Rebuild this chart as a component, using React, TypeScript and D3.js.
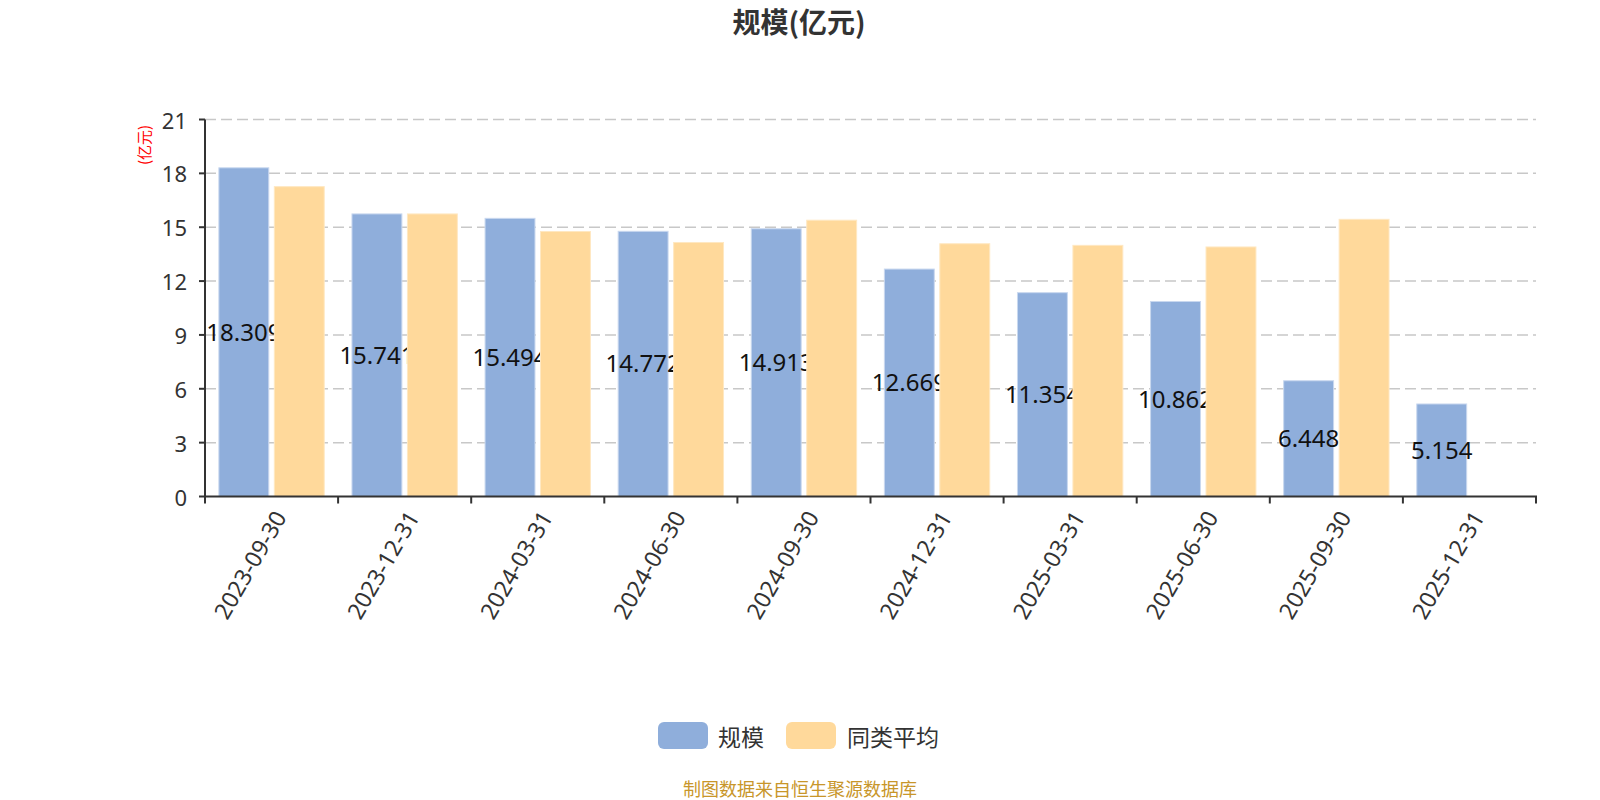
import * as d3 from 'd3';

const DATES = ['2023-09-30', '2023-12-31', '2024-03-31', '2024-06-30', '2024-09-30', '2024-12-31', '2025-03-31', '2025-06-30', '2025-09-30', '2025-12-31'];
const SCALE = [18.309, 15.741, 15.494, 14.772, 14.913, 12.669, 11.354, 10.862, 6.448, 5.154];
const PEER_AVG: (number | null)[] = [17.26, 15.74, 14.76, 14.15, 15.39, 14.08, 13.99, 13.9, 15.44, null];
const Y_TICKS = [0, 3, 6, 9, 12, 15, 18, 21];
const SERIES = ['规模', '同类平均'];

const W = 1600;
const H = 800;
const M = { left: 205, right: 64, top: 119.5, bottom: 303.5 };
const BLUE = '#8faedb';
const YELLOW = '#ffd99b';
const FONT = '"Noto Sans", "Noto Sans CJK SC", sans-serif';
const CJK = '"Noto Sans CJK SC", "Noto Sans", sans-serif';

export default function App() {
  const x = d3.scaleBand<string>().domain(DATES).range([M.left, W - M.right]).padding(0);
  const inner = d3.scaleBand<string>().domain(SERIES).range([0, x.bandwidth()]).paddingInner(0.1).paddingOuter(0.25);
  const y = d3.scaleLinear().domain([0, 21]).range([H - M.bottom, M.top]);
  const y0 = y(0);
  const bw = inner.bandwidth();
  const ticksX = [...DATES.map(d => x(d) ?? 0), W - M.right];

  return (
    <svg width={W} height={H} style={{ position: 'absolute', left: 0, top: 0, background: '#fff' }}>
      <text x={799} y={33} textAnchor="middle" fontFamily={CJK} fontSize={28} fontWeight="bold" fill="#333">规模(亿元)</text>

      {/* grid */}
      {Y_TICKS.filter(t => t > 0).map(t => (
        <line key={t} x1={M.left} x2={W - M.right} y1={y(t)} y2={y(t)} stroke="#c8c8c8" strokeWidth={1.5} strokeDasharray="11 5" />
      ))}

      {/* blue bars */}
      {DATES.map((d, i) => (
        <rect key={d} x={(x(d) ?? 0) + (inner('规模') ?? 0)} y={y(SCALE[i])} width={bw} height={y0 - y(SCALE[i])}
          fill={BLUE} stroke="#c9d8ef" strokeWidth={1} />
      ))}

      {/* value labels, sit under the average bars */}
      {DATES.map((d, i) => (
        <text key={d} x={(x(d) ?? 0) + (inner('规模') ?? 0) + bw / 2} y={(y(SCALE[i]) + y0) / 2 - 1}
          textAnchor="middle" dominantBaseline="central" fontFamily={FONT} fontSize={24} fill="#111">{SCALE[i]}</text>
      ))}

      {/* average bars */}
      {DATES.map((d, i) => PEER_AVG[i] == null ? null : (
        <rect key={d} x={(x(d) ?? 0) + (inner('同类平均') ?? 0)} y={y(PEER_AVG[i] as number)} width={bw}
          height={y0 - y(PEER_AVG[i] as number)} fill={YELLOW} stroke="#ffe8c2" strokeWidth={1} />
      ))}

      {/* y axis */}
      <line x1={M.left} x2={M.left} y1={M.top} y2={y0} stroke="#333" strokeWidth={2} />
      {Y_TICKS.map(t => (
        <g key={t}>
          <line x1={M.left - 6} x2={M.left} y1={y(t)} y2={y(t)} stroke="#333" strokeWidth={2} />
          <text x={M.left - 18} y={y(t)} textAnchor="end" dominantBaseline="central" fontFamily={FONT} fontSize={22} fill="#333">{t}</text>
        </g>
      ))}
      <text transform={`translate(143,145) rotate(-90)`} textAnchor="middle" dominantBaseline="central" fontFamily={CJK} fontSize={15} fill="#ff0000">(亿元)</text>

      {/* x axis */}
      <line x1={M.left - 1} x2={W - M.right + 1} y1={y0} y2={y0} stroke="#333" strokeWidth={2} />
      {ticksX.map((tx, i) => (
        <line key={i} x1={tx} x2={tx} y1={y0} y2={y0 + 7} stroke="#333" strokeWidth={2} />
      ))}
      {DATES.map(d => (
        <text key={d} transform={`translate(${(x(d) ?? 0) + x.bandwidth() / 2 + 8},${y0 + 16}) rotate(-60)`}
          textAnchor="end" dominantBaseline="central" fontFamily={FONT} fontSize={23} fill="#333">{d}</text>
      ))}

      {/* legend */}
      <rect x={658} y={722} width={50} height={27} rx={6} fill={BLUE} />
      <text x={718} y={735.5} dominantBaseline="central" fontFamily={CJK} fontSize={23} fill="#333">规模</text>
      <rect x={786} y={722} width={50} height={27} rx={6} fill={YELLOW} />
      <text x={847} y={735.5} dominantBaseline="central" fontFamily={CJK} fontSize={23} fill="#333">同类平均</text>

      <text x={800} y={788} textAnchor="middle" dominantBaseline="central" fontFamily={CJK} fontSize={18} fill="#c8962a">制图数据来自恒生聚源数据库</text>
    </svg>
  );
}
